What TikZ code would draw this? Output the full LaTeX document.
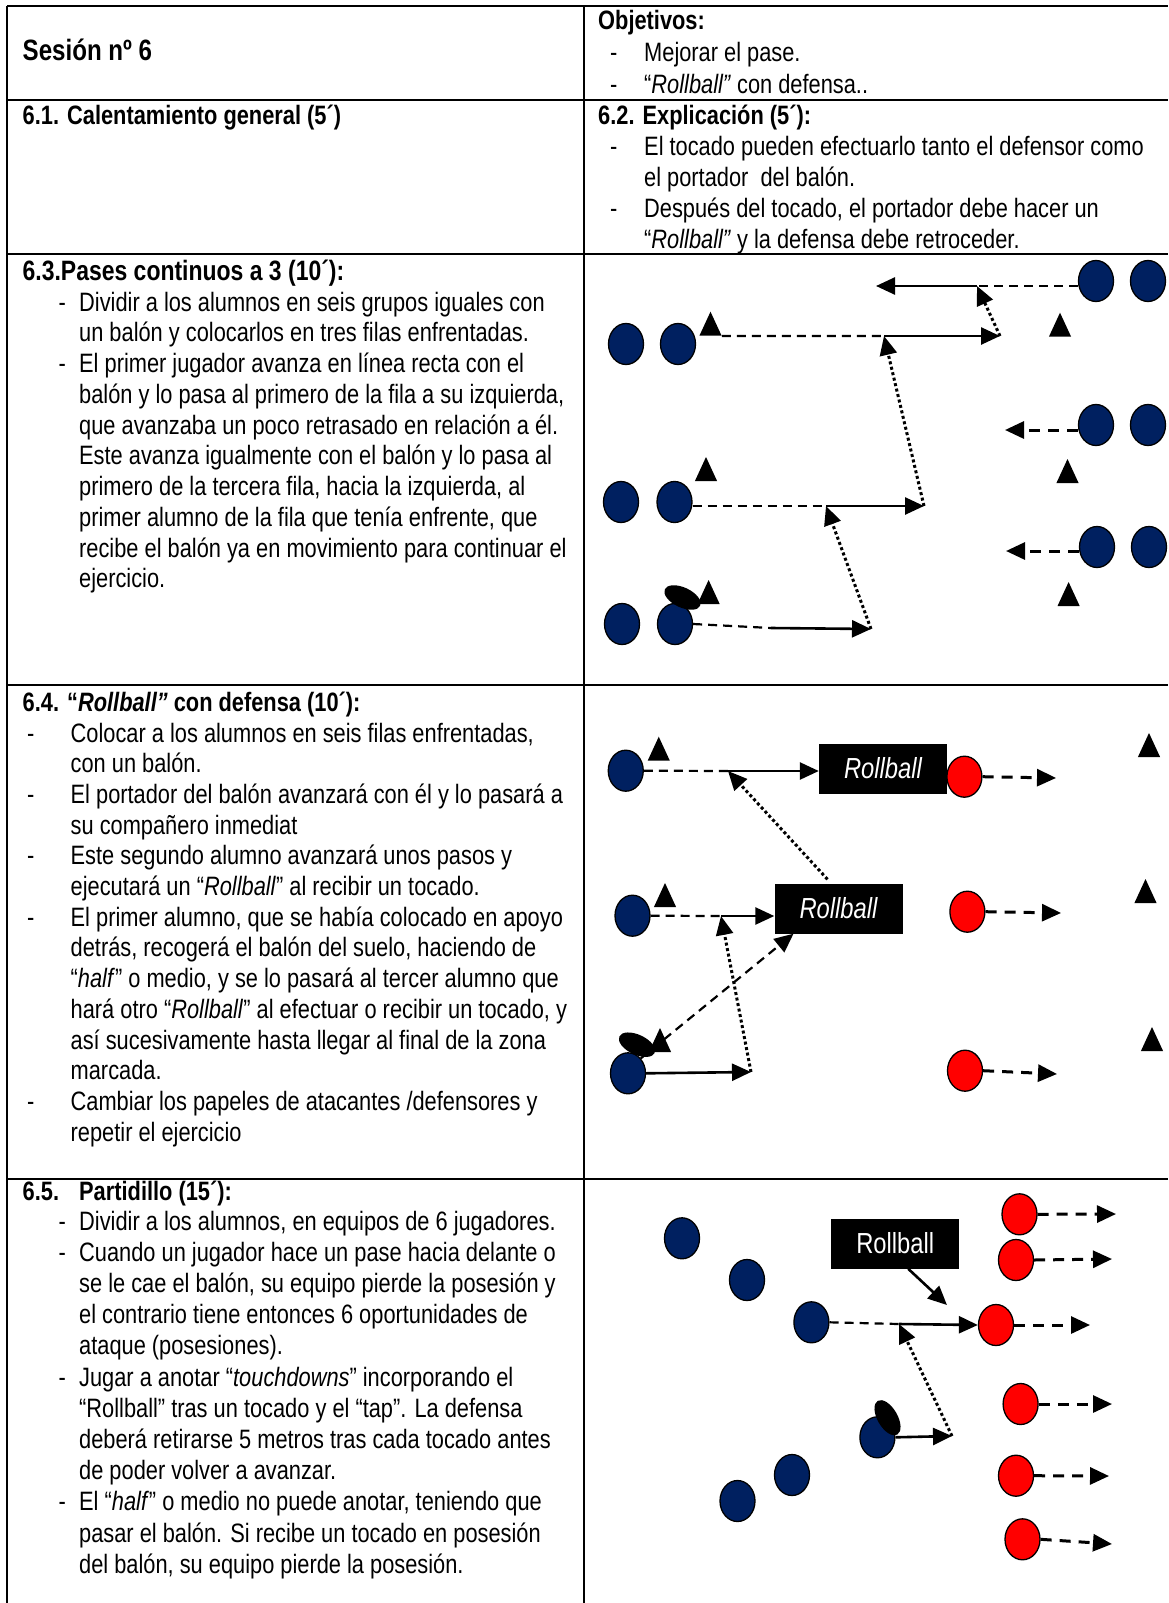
\documentclass[tikz,border=0pt]{standalone}
\usepackage{fontspec}
\setmainfont{Liberation Sans}[FakeStretch=0.82]
\usetikzlibrary{arrows.meta,shapes.geometric,positioning}
\definecolor{navy}{RGB}{0,32,96}
\newcommand\bodyfont{\fontsize{26.6pt}{30.7pt}\selectfont}
\newcommand\boxfont{\fontsize{29pt}{32pt}\selectfont}
\tikzset{
  txt/.style={anchor=west, inner sep=0pt, text height=19pt, text depth=5pt, font=\bodyfont},
  hd/.style={txt, font=\bodyfont\bfseries},
  tabline/.style={line width=2.5pt},
  bp/.style={ellipse, draw=black, line width=1.3pt, fill=navy, minimum width=35pt, minimum height=41pt, inner sep=0pt},
  rp/.style={bp, fill=red},
  ball/.style={ellipse, fill=black, minimum width=39pt, minimum height=20pt, inner sep=0pt},
  cone/.style={regular polygon, regular polygon sides=3, minimum size=32pt, inner sep=0pt, fill=black, xscale=0.8},
  rbox/.style={fill=black, text=white, minimum width=128pt, minimum height=50pt, inner sep=0pt, font=\boxfont},
  atip/.style={-{Triangle[length=19pt,width=17pt]}},
  sol/.style={line width=2.6pt, atip},
  dsh/.style={line width=2.2pt, dash pattern=on 9pt off 6pt},
  dshr/.style={line width=3pt, dash pattern=on 11pt off 8pt, atip},
  dotl/.style={line width=3pt, dash pattern=on 3pt off 2.6pt, atip}
}
\begin{document}
\begin{tikzpicture}[x=1pt,y=-1pt]
\useasboundingbox (0,0) rectangle (1168,1603);
\draw[tabline] (7,6) -- (1168,6);
\draw[tabline] (7,100) -- (1168,100);
\draw[tabline] (7,254) -- (1168,254);
\draw[tabline] (7,685) -- (1168,685);
\draw[tabline] (7,1179) -- (1168,1179);
\draw[tabline] (7,6) -- (7,1603);
\draw[tabline] (584,6) -- (584,1603);

\node[hd, font=\fontsize{29.4pt}{32pt}\selectfont\bfseries] (ses) at (22.5,54) {Sesión nº 6};
\node[hd] (obj) at (598,23) {Objetivos:};
\node[txt] (objd1) at (610,55) {-};
\node[txt] (obj1) at (644,55) {Mejorar el pase.};
\node[txt] (objd2) at (610,86) {-};
\node[txt] (obj2) at (644,86) {“\textit{Rollball”} con defensa..};

\node[hd] (cal) at (22.5,117) {6.1. Calentamiento general (5´)};
\node[hd] (exp) at (598,117) {6.2. Explicación (5´):};
\foreach \t [count=\i] in {El tocado pueden efectuarlo tanto el defensor como, el portador\ \ del balón., {Después del tocado, el portador debe hacer un}, “\textit{Rollball”} y la defensa debe retroceder.}
  \node[txt] (exp\i) at (644,{148+31.3*(\i-1)}) {\t};
\foreach \i in {1,3}
  \node[txt] (expd\i) at (610,{148+31.3*(\i-1)}) {-};

\node[hd, font=\fontsize{28pt}{32pt}\selectfont\bfseries] (pas) at (22.5,273) {6.3.Pases continuos a 3 (10´):};
\foreach \t [count=\i] in {Dividir a los alumnos en seis grupos iguales con, un balón y colocarlos en tres filas enfrentadas., El primer jugador avanza en línea recta con el, {balón y lo pasa al primero de la fila a su izquierda,}, que avanzaba un poco retrasado en relación a él., Este avanza igualmente con el balón y lo pasa al, {primero de la tercera fila, hacia la izquierda, al}, {primer alumno de la fila que tenía enfrente, que}, recibe el balón ya en movimiento para continuar el, ejercicio.}
  \node[txt] (pas\i) at (79,{304+30.75*(\i-1)}) {\t};
\foreach \i in {1,3}
  \node[txt] (pasd\i) at (58.5,{304+30.75*(\i-1)}) {-};

\node[hd] (rol) at (22.5,704) {6.4. “\textit{Rollball”} con defensa (10´):};
\foreach \t [count=\i] in {{Colocar a los alumnos en seis filas enfrentadas,}, con un balón., El portador del balón avanzará con él y lo pasará a, su compañero inmediat, Este segundo alumno avanzará unos pasos y, ejecutará un “\textit{Rollball}” al recibir un tocado., {El primer alumno, que se había colocado en apoyo}, {detrás, recogerá el balón del suelo, haciendo de}, {“\textit{half}” o medio, y se lo pasará al tercer alumno que}, {hará otro “\textit{Rollball}” al efectuar o recibir un tocado, y}, así sucesivamente hasta llegar al final de la zona, marcada., Cambiar los papeles de atacantes /defensores y, repetir el ejercicio}
  \node[txt] (rol\i) at (70.5,{735+30.7*(\i-1)}) {\t};
\foreach \i in {1,3,5,7,13}
  \node[txt] (rold\i) at (27,{735+30.7*(\i-1)}) {-};

\node[hd] (par) at (22.5,1193) {6.5.};
\node[hd] (part) at (79,1193) {Partidillo (15´):};
\foreach \t [count=\i] in {{Dividir a los alumnos, en equipos de 6 jugadores.}, Cuando un jugador hace un pase hacia delante o, {se le cae el balón, su equipo pierde la posesión y}, el contrario tiene entonces 6 oportunidades de, ataque (posesiones)., Jugar a anotar “\textit{touchdowns}” incorporando el, “Rollball” tras un tocado y el “tap”. La defensa, deberá retirarse 5 metros tras cada tocado antes, de poder volver a avanzar., {El “\textit{half}” o medio no puede anotar, teniendo que}, pasar el balón. Si recibe un tocado en posesión, {del balón, su equipo pierde la posesión.}}
  \node[txt] (part\i) at (79,{1223+31.2*(\i-1)}) {\t};
\foreach \i in {1,2,6,10}
  \node[txt] (partd\i) at (58.5,{1223+31.2*(\i-1)}) {-};

\node[bp] (j1) at (626,344) {};
\node[bp] (j2) at (678,344) {};
\node[bp] (j3) at (621,502) {};
\node[bp] (j4) at (674.5,502) {};
\node[bp] (j5) at (622,624) {};
\node[bp] (j6) at (675,624) {};
\node[bp] (j7) at (1096,281) {};
\node[bp] (j8) at (1148,281) {};
\node[bp] (j9) at (1096,425) {};
\node[bp] (j10) at (1148,425) {};
\node[bp] (j11) at (1097,547) {};
\node[bp] (j12) at (1149,547) {};
\node[cone] (o1) at (710.5,327.7) {};
\node[cone] (o2) at (1060,328.7) {};
\node[cone] (o3) at (706,473) {};
\node[cone] (o4) at (1067.5,475) {};
\node[cone] (o5) at (708.6,596) {};
\node[cone] (o6) at (1068.6,598) {};
\node[ball, rotate=-25] (ball1) at (682.5,597.5) {};

\coordinate (g1) at (884,336);
\coordinate (g2) at (1000,336);
\coordinate (g3) at (826,506);
\coordinate (g4) at (924,506);
\coordinate (g5) at (977,286);
\coordinate (g6) at (876,286);
\coordinate (g7) at (771,628);
\coordinate (g8) at (871,629);
\coordinate (g9) at (1005,430);
\coordinate (g10) at (1006,551);
\draw[dsh] (o1.corner 3) -- (g1);
\draw[sol] (g1) -- (g2);
\draw[dsh] (g5 -| j7.west) -- (g5);
\draw[sol] (g5) -- (g6);
\draw[dotl] (g2) -- (g5);
\draw[dotl] (g4) -- (g1);
\draw[dsh] (g3 -| j4.east) -- (g3);
\draw[sol] (g3) -- (g4);
\draw[dotl] (g8) -- (g3);
\draw[dsh] (j6.east) -- (g7);
\draw[sol] (g7) -- (g8);
\draw[dshr] (g9 -| j9.west) -- (g9);
\draw[dshr] (g10 -| j11.west) -- (g10);

\node[bp] (k1) at (625.75,770.7) {};
\node[bp] (k2) at (632.5,915.7) {};
\node[bp] (k3) at (628,1073.3) {};
\node[rp] (r1) at (964.4,776.7) {};
\node[rp] (r2) at (967.4,911.7) {};
\node[rp] (r3) at (965,1070.7) {};
\node[cone] (o7) at (658.75,752.7) {};
\node[cone] (o8) at (665,899) {};
\node[cone] (o9) at (660,1044) {};
\node[cone] (o10) at (1149,749) {};
\node[cone] (o11) at (1145.5,895) {};
\node[cone] (o12) at (1152,1043) {};
\node[ball, rotate=-25] (ball2) at (637,1044.7) {};
\node[rbox] (rb1) at (883,768.5) {\itshape Rollball};
\node[rbox] (rb2) at (838.5,908.5) {\itshape Rollball};

\coordinate (h1) at (728,771);
\coordinate (h2) at (1056,778);
\coordinate (h3) at (721,916);
\coordinate (h4) at (1061,913);
\coordinate (h5) at (1057,1074);
\coordinate (h6) at (751,1072);
\draw[dsh] (k1.east) -- (h1);
\draw[sol] (h1) -- (h1 -| rb1.west);
\draw[dotl] ([xshift=-11pt,yshift=4pt]rb2.north) -- (h1);
\draw[dshr] (r1.east) -- (h2);
\draw[dsh] (k2.east) -- (h3);
\draw[sol] (h3) -- (h3 -| rb2.west);
\draw[dotl] (h6) -- (h3);
\draw[dsh, atip] (k3.north east) -- ([xshift=-45pt]rb2.south);
\draw[sol] (k3.east) -- (h6);
\draw[dshr] (r2.east) -- (h4);
\draw[dshr] (r3.east) -- (h5);

\node[bp] (m1) at (682,1238.3) {};
\node[bp] (m2) at (747,1280) {};
\node[bp] (m3) at (811.4,1322.3) {};
\node[bp] (m4) at (877.4,1437.3) {};
\node[bp] (m5) at (792,1475) {};
\node[bp] (m6) at (737.5,1501) {};
\node[rp] (n1) at (1019.5,1214.3) {};
\node[rp] (n2) at (1016,1260) {};
\node[rp] (n3) at (996,1325) {};
\node[rp] (n4) at (1020.6,1404) {};
\node[rp] (n5) at (1016,1475.7) {};
\node[rp] (n6) at (1022.5,1539.3) {};
\node[ball, rotate=-60] (ball3) at (887.5,1417.7) {};
\node[rbox] (rb3) at (895.25,1243.6) {Rollball};

\coordinate (w1) at (947,1305);
\coordinate (w2) at (899,1324);
\coordinate (w4) at (952,1436);
\foreach \i/\x/\y in {1/1116/1214,2/1112/1259,3/1090/1325,4/1112/1404,5/1109/1476,6/1112/1544}{
  \coordinate (v\i) at (\x,\y);
  \draw[dshr] (n\i.east) -- (v\i);
}
\draw[sol] ([xshift=13pt]rb3.south) -- (w1);
\draw[dsh] (m3.east) -- (w2);
\draw[sol] (w2) -- (n3.west);
\draw[dotl] (w4) -- (w2);
\draw[sol] (m4.east) -- (w4);
\end{tikzpicture}
\end{document}
